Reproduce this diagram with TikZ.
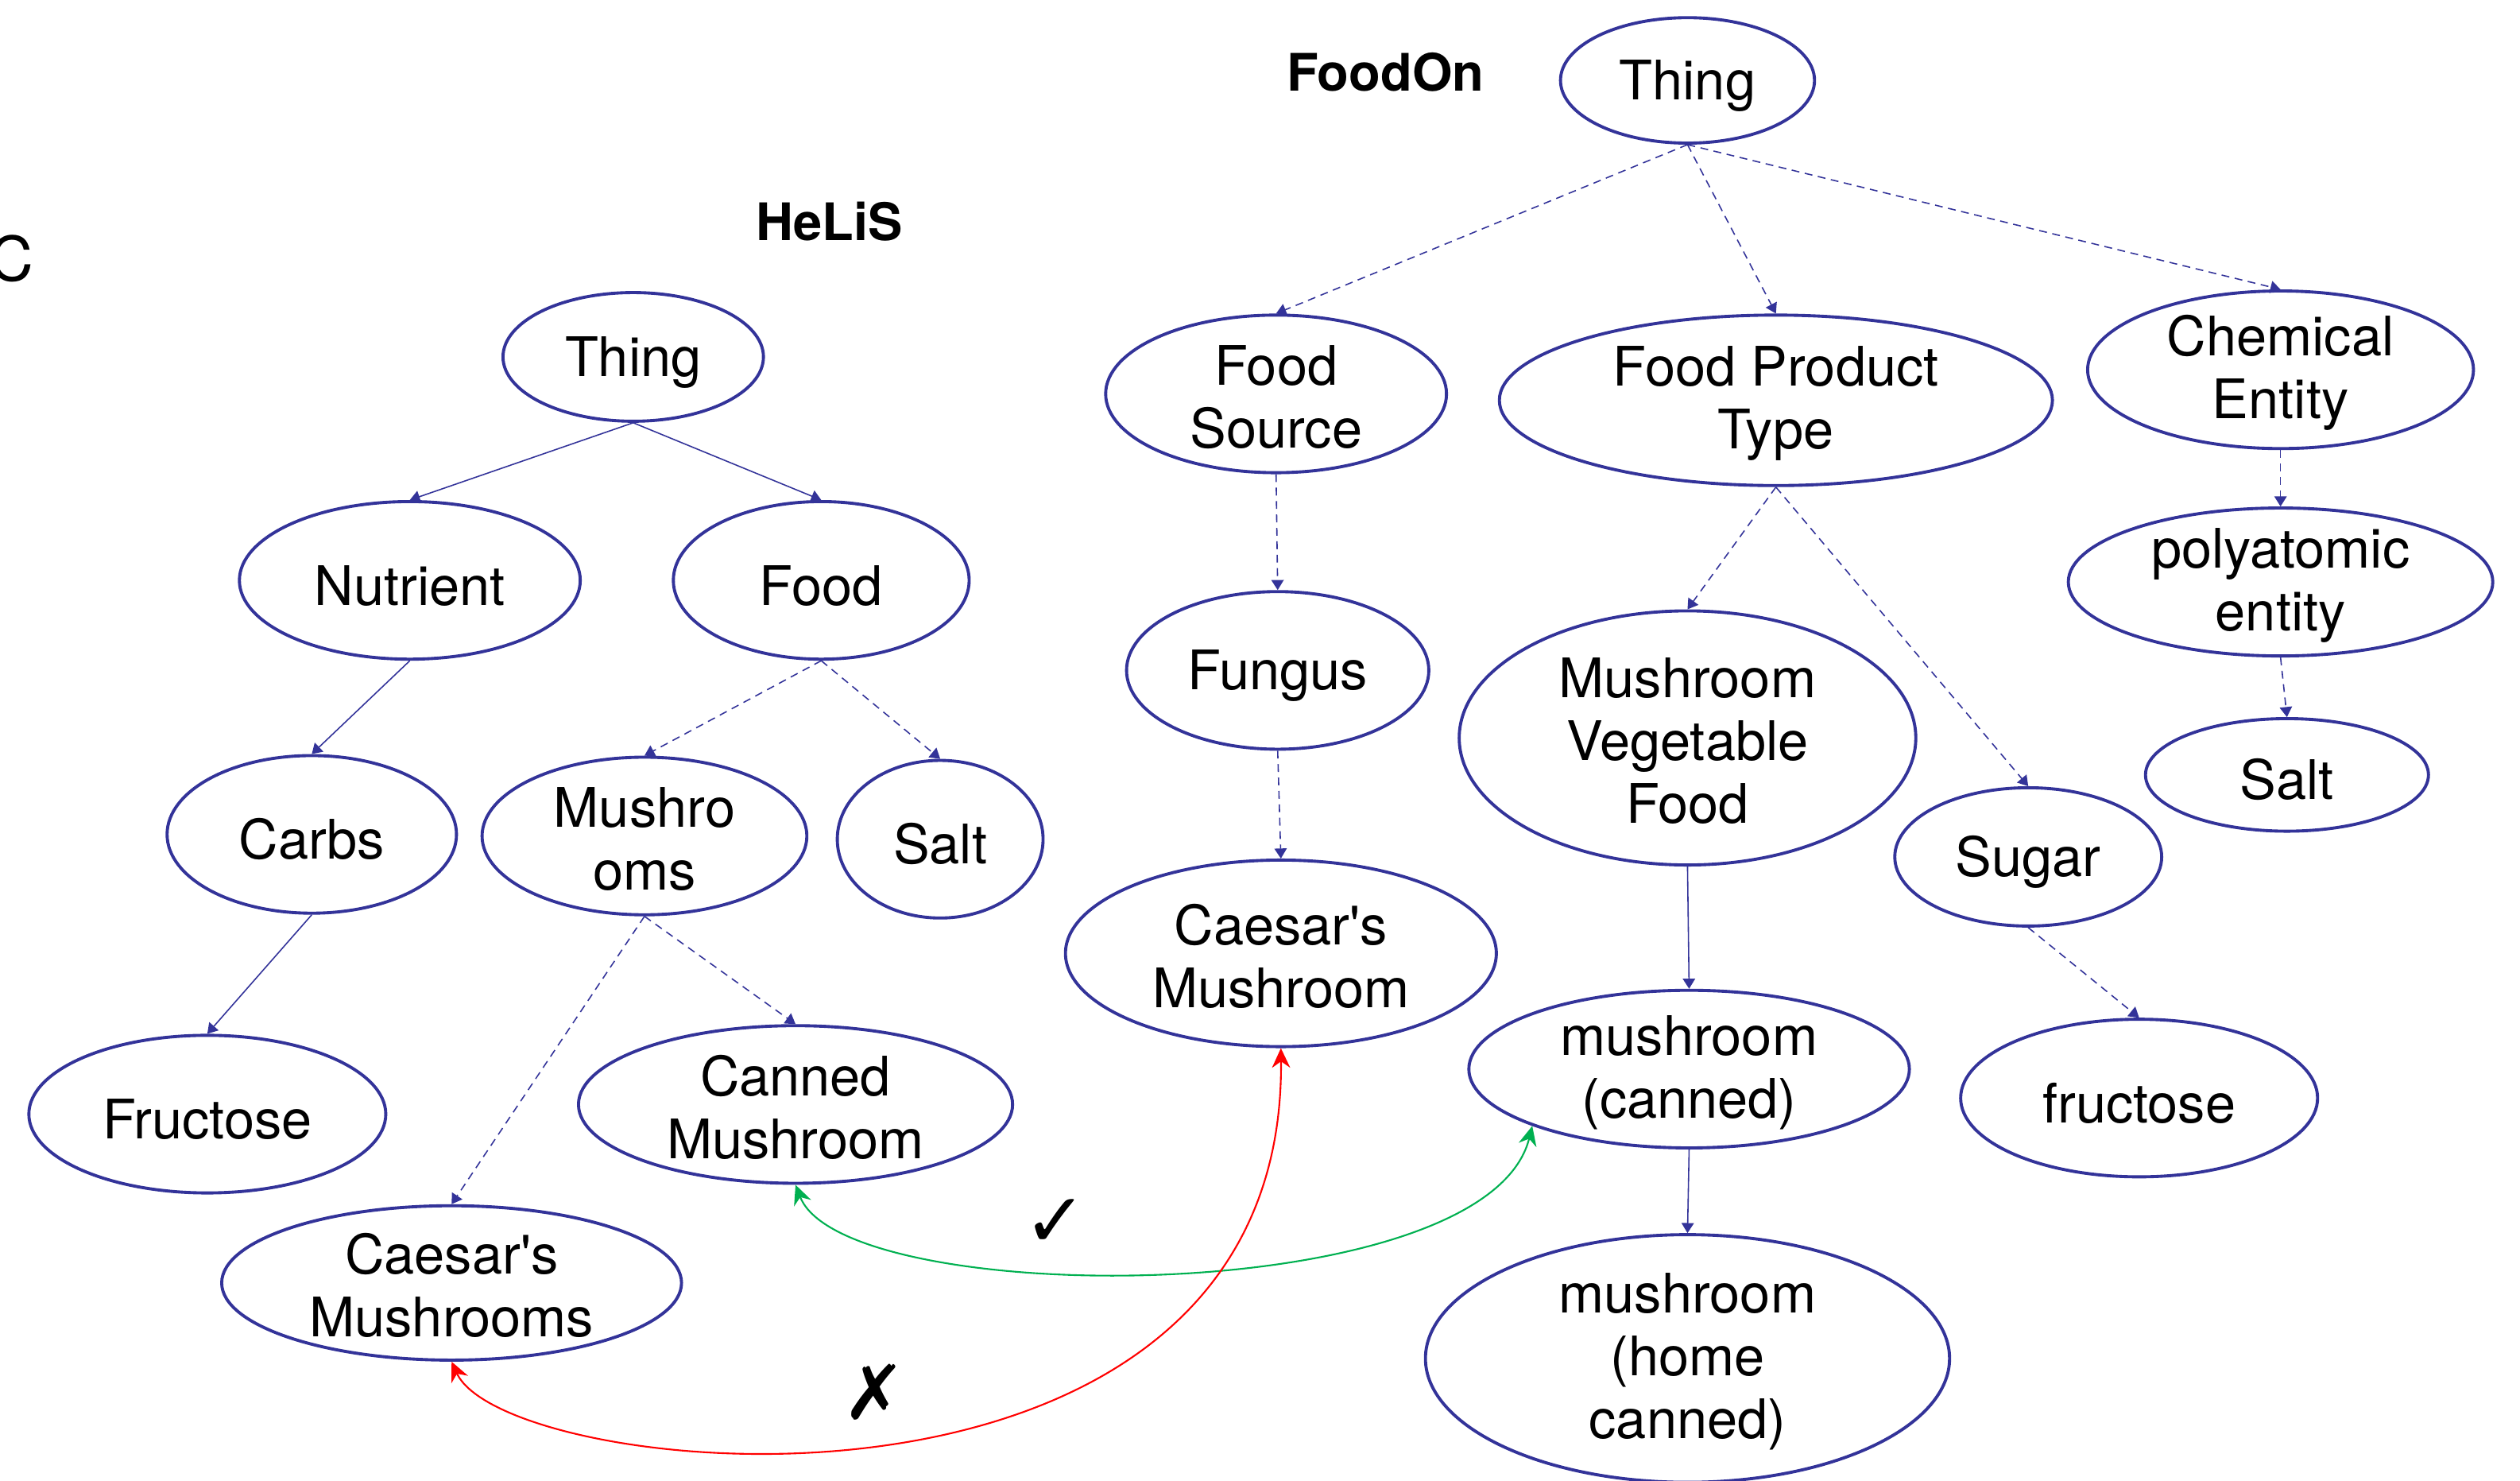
\documentclass[tikz,border=0pt]{standalone}
\usepackage{fontspec}
\setmainfont{TeX Gyre Heros}
\newfontfamily\symfont{DejaVu Sans}
\usetikzlibrary{shapes.geometric,arrows.meta}
\definecolor{navy}{RGB}{51,51,153}
\definecolor{okgreen}{RGB}{0,176,80}
\definecolor{badred}{RGB}{255,0,0}
% struts that lower a label slightly inside its ellipse
\newcommand\onestrut{\rule{0pt}{18pt}}
\newcommand\manystrut{\rule{0pt}{16.5pt}}
\begin{document}
\begin{tikzpicture}[x=0.020223cm,y=-0.020223cm,
  cls/.style={ellipse, draw=navy, line width=1.1pt, inner xsep=-3pt, inner ysep=-8pt,
    align=center, font=\fontsize{19.5}{22.5}\selectfont},
  sz/.style 2 args={minimum width=#1*0.040446cm, minimum height=#2*0.040446cm},
  isa/.style={draw=navy, line width=0.45pt, -{Triangle[length=3.6pt,width=4.4pt]}},
  sub/.style={isa, dash pattern=on 2.8pt off 2pt},
  match/.style={line width=0.6pt, {Stealth[length=7pt,width=6.5pt]}-{Stealth[length=7pt,width=6.5pt]}},
  title/.style={font=\bfseries\fontsize{18.5}{22}\selectfont},
  verdict/.style={font=\symfont\fontsize{27}{27}\selectfont}]
\useasboundingbox (0,0) rectangle (1568,921);

% panel letter and ontology titles
\node[font=\fontsize{22}{26}\selectfont] (panel) at (7,161) {C};
\node[title] (helis) at (516,138) {HeLiS};
\node[title] (foodon) at (862,45) {FoodOn};

% HeLiS classes
\node[cls, sz={81}{40}] (hthing) at (394,222) {\onestrut Thing};
\node[cls, sz={106}{49}] (hnut) at (255,361) {\onestrut Nutrient};
\node[cls, sz={92}{49}] (hfood) at (511,361) {\onestrut Food};
\node[cls, sz={90}{49}] (hcarbs) at (194,519) {\onestrut Carbs};
\node[cls, sz={101}{49}] (hmush) at (401,520) {\manystrut Mushro\\oms};
\node[cls, sz={64}{49}] (hsalt) at (585,522) {\onestrut Salt};
\node[cls, sz={111}{49}] (hfruc) at (129,693) {\onestrut Fructose};
\node[cls, sz={135}{49}] (hcan) at (495,687) {\manystrut Canned\\Mushroom};
\node[cls, sz={143}{48}] (hcaes) at (281,798) {\manystrut Caesar\textquotesingle s\\Mushrooms};

% FoodOn classes
\node[cls, sz={79}{39}] (fthing) at (1050,50) {\onestrut Thing};
\node[cls, sz={106}{49}] (fsrc) at (794,245) {\manystrut Food\\Source};
\node[cls, sz={172}{53}] (fpt) at (1105,249) {\manystrut Food Product\\Type};
\node[cls, sz={120}{49}] (fchem) at (1419,230) {\manystrut Chemical\\Entity};
\node[cls, sz={132}{46}] (fpoly) at (1419,362) {\manystrut polyatomic\\entity};
\node[cls, sz={88}{35}] (fsalt) at (1423,482) {\onestrut Salt};
\node[cls, sz={94}{49}] (ffung) at (795,417) {\onestrut Fungus};
\node[cls, sz={142}{79}] (fmvf) at (1050,459) {\manystrut Mushroom\\Vegetable\\Food};
\node[cls, sz={83}{43}] (fsugar) at (1262,533) {\onestrut Sugar};
\node[cls, sz={134}{58}] (fcaes) at (797,593) {\manystrut Caesar\textquotesingle s\\Mushroom};
\node[cls, sz={137}{49}] (fcan) at (1051,665) {\manystrut mushroom\\(canned)};
\node[cls, sz={111}{49}] (ffruc) at (1331,683) {\onestrut fructose};
\node[cls, sz={163}{77}] (fhome) at (1050,845) {\manystrut mushroom\\(home\\canned)};

% HeLiS hierarchy
\draw[isa] (hthing.south) -- (hnut.north);
\draw[isa] (hthing.south) -- (hfood.north);
\draw[isa] (hnut.south) -- (hcarbs.north);
\draw[isa] (hcarbs.south) -- (hfruc.north);
\draw[sub] (hfood.south) -- (hmush.north);
\draw[sub] (hfood.south) -- (hsalt.north);
\draw[sub] (hmush.south) -- (hcan.north);
\draw[sub] (hmush.south) -- (hcaes.north);

% FoodOn hierarchy
\draw[sub] (fthing.south) -- (fsrc.north);
\draw[sub] (fthing.south) -- (fpt.north);
\draw[sub] (fthing.south) -- (fchem.north);
\draw[sub] (fsrc.south) -- (ffung.north);
\draw[sub] (ffung.south) -- (fcaes.north);
\draw[sub] (fpt.south) -- (fmvf.north);
\draw[sub] (fpt.south) -- (fsugar.north);
\draw[sub] (fsugar.south) -- (ffruc.north);
\draw[sub] (fchem.south) -- (fpoly.north);
\draw[sub] (fpoly.south) -- (fsalt.north);
\draw[isa] (fmvf.south) -- (fcan.north);
\draw[isa] (fcan.south) -- (fhome.north);

% alignments between the two ontologies
\draw[match, okgreen] (hcan.south) .. controls (525,815) and (925,815) .. (fcan.south west);
\draw[match, badred] (hcaes.south) .. controls (315,922) and (800,970) .. (fcaes.south);
\node[verdict] (ok) at (657,761) {✓};
\node[verdict] (wrong) at (544,866) {✗};
\end{tikzpicture}
\end{document}
